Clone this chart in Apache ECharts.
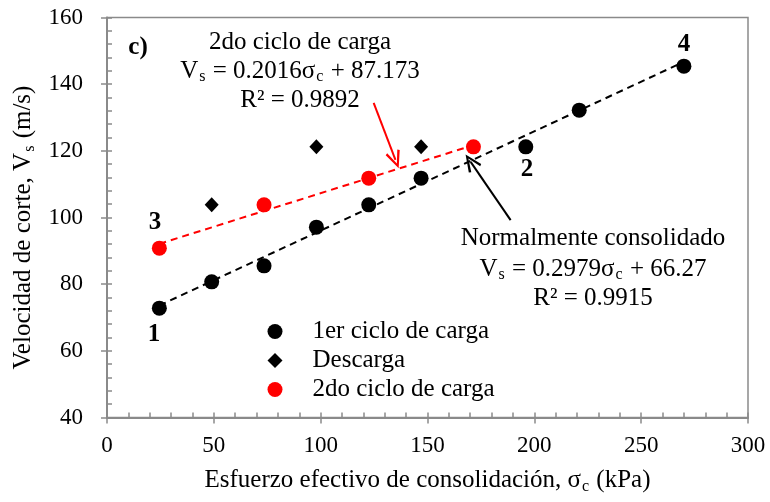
<!DOCTYPE html>
<html>
<head>
<meta charset="utf-8">
<script src="https://cdn.jsdelivr.net/npm/echarts@6/dist/echarts.min.js"></script>
<style>html,body{margin:0;padding:0;background:#fff}#c{width:770px;height:502px}</style>
</head>
<body>
<div id="c"></div>
<script>
// ---- data ----
const stress1 = [24.5, 49, 73.5, 98, 122.5, 147, 196, 221, 270];
const vs1 = [72.8, 80.7, 85.5, 97.1, 103.8, 111.8, 121.2, 132.2, 145.4];
const stressUnload = [49, 98, 147];
const vsUnload = [103.8, 121.2, 121.2];
const stress2 = [24.5, 73.5, 122.5, 171.5];
const vs2 = [90.8, 103.8, 111.8, 121.2];
const trendNCx = [24.5, 270];
const trendNCy = [73.6, 146.7];
const trend2x = [24.5, 171.5];
const trend2y = [92.1, 121.7];
const arrowRed = [[124.8, 134.4], [135, 117.3]];
const arrowBlack = [[188.9, 99.2], [170.2, 116.7]];
const xTicks = [0, 50, 100, 150, 200, 250, 300];
const yTicks = [40, 60, 80, 100, 120, 140, 160];
const names = ['1er ciclo de carga', 'Descarga', '2do ciclo de carga'];

const F = 'Liberation Serif';
const pair = (xs, ys) => xs.map((x, i) => [x, ys[i]]);
const chevron = 'path://M5,0 L10,10 L8.6,10.8 L5,3 L1.4,10.8 L0,10 Z';

const chart = echarts.init(document.getElementById('c'));
const axisColor = '#8a8a8a';
const richSub = {
  a: {fontFamily: F, fontSize: 25, color: '#000', lineHeight: 28},
  s: {fontFamily: F, fontSize: 16, color: '#000', verticalAlign: 'bottom', lineHeight: 28, padding: [0, 1, 0, 1]}
};
function txt(x, y, text, opts) {
  return {
    type: 'text', x: x, y: y, z: 100,
    style: Object.assign({text: text, fontFamily: F, fontSize: 25, fill: '#000', align: 'center', verticalAlign: 'middle'}, opts || {})
  };
}
chart.setOption({
  animation: false,
  grid: {left: 107, right: 22, top: 17.5, bottom: 84.5, show: true, borderColor: axisColor, borderWidth: 1.5, backgroundColor: 'transparent'},
  xAxis: [{
    type: 'value', min: xTicks[0], max: xTicks[xTicks.length - 1], interval: 50,
    axisLine: {show: true, onZero: false, lineStyle: {color: axisColor, width: 2}},
    axisTick: {show: true, inside: false, length: 6, lineStyle: {color: axisColor, width: 1.5}},
    axisLabel: {fontFamily: F, fontSize: 23, color: '#000', margin: 17},
    splitLine: {show: false},
    name: '{a|Esfuerzo efectivo de consolidación, σ}{s|c}{a| (kPa)}',
    nameLocation: 'middle', nameGap: 49,
    nameTextStyle: {rich: richSub}
  }, {
    type: 'value', min: 0, max: 300, interval: 50, position: 'bottom',
    axisLine: {show: false},
    axisTick: {show: true, inside: true, length: 5, lineStyle: {color: axisColor, width: 1.5}},
    minorTick: {show: true, splitNumber: 5, length: 5, lineStyle: {color: axisColor, width: 1.5}},
    axisLabel: {show: false}, splitLine: {show: false}
  }],
  yAxis: [{
    type: 'value', min: yTicks[0], max: yTicks[yTicks.length - 1], interval: 20,
    axisLine: {show: true, onZero: false, lineStyle: {color: axisColor, width: 2}},
    axisTick: {show: true, inside: false, length: 6, lineStyle: {color: axisColor, width: 1.5}},
    axisLabel: {fontFamily: F, fontSize: 23, color: '#000', margin: 24},
    splitLine: {show: false},
    name: '{a|Velocidad de corte, V}{s|s}{a| (m/s)}',
    nameLocation: 'middle', nameGap: 69, nameRotate: 90,
    nameTextStyle: {rich: richSub, padding: [0, 20, 0, 0]}
  }, {
    type: 'value', min: 40, max: 160, interval: 20, position: 'left',
    axisLine: {show: false},
    axisTick: {show: true, inside: true, length: 5, lineStyle: {color: axisColor, width: 1.5}},
    minorTick: {show: true, splitNumber: 5, length: 5, lineStyle: {color: axisColor, width: 1.5}},
    axisLabel: {show: false}, splitLine: {show: false}
  }],
  legend: {
    orient: 'vertical', left: 262.5, top: 314, itemWidth: 15, itemHeight: 15, itemGap: 4,
    data: names,
    textStyle: {fontFamily: F, fontSize: 25, color: '#000', lineHeight: 25, padding: [0, 0, 0, 25]}
  },
  graphic: [
    txt(138, 48, 'c)', {fontWeight: 'bold'}),
    txt(300, 42, '2do ciclo de carga'),
    txt(300, 71, '{a|V}{s|s}{a| = 0.2016σ}{s|c}{a| + 87.173}', {rich: richSub}),
    txt(300, 100, 'R² = 0.9892'),
    txt(593, 238, 'Normalmente consolidado'),
    txt(593, 269, '{a|V}{s|s}{a| = 0.2979σ}{s|c}{a| + 66.27}', {rich: richSub}),
    txt(593, 298, 'R² = 0.9915'),
    txt(154, 335, '1', {fontWeight: 'bold'}),
    txt(527, 170, '2', {fontWeight: 'bold'}),
    txt(155, 223, '3', {fontWeight: 'bold'}),
    txt(684, 45, '4', {fontWeight: 'bold'})
  ],
  series: [
    {
      name: 'trendNC', type: 'line', data: pair(trendNCx, trendNCy), symbol: 'none',
      lineStyle: {color: '#000', width: 2, type: [7, 5]}, z: 1,
      markLine: {
        silent: true, symbolSize: [15, 18], animation: false,
        label: {show: false},
        lineStyle: {color: '#000', width: 2, type: 'solid'},
        data: [[{coord: arrowBlack[0], symbol: 'none'}, {coord: arrowBlack[1], symbol: chevron}]]
      }
    },
    {
      name: 'trend2', type: 'line', data: pair(trend2x, trend2y), symbol: 'none',
      lineStyle: {color: '#ff0000', width: 2, type: [7, 5]}, z: 1,
      markLine: {
        silent: true, symbolSize: [15, 18], animation: false,
        label: {show: false},
        lineStyle: {color: '#ff0000', width: 2, type: 'solid'},
        data: [[{coord: arrowRed[0], symbol: 'none'}, {coord: arrowRed[1], symbol: chevron}]]
      }
    },
    {name: names[0], type: 'scatter', data: pair(stress1, vs1), symbol: 'circle', symbolSize: 15, itemStyle: {color: '#000', opacity: 1}, z: 5},
    {name: names[1], type: 'scatter', data: pair(stressUnload, vsUnload), symbol: 'diamond', symbolSize: [14, 15], itemStyle: {color: '#000', opacity: 1}, z: 5},
    {name: names[2], type: 'scatter', data: pair(stress2, vs2), symbol: 'circle', symbolSize: 15, itemStyle: {color: '#ff0000', opacity: 1}, z: 6}
  ]
});
</script>
</body>
</html>
